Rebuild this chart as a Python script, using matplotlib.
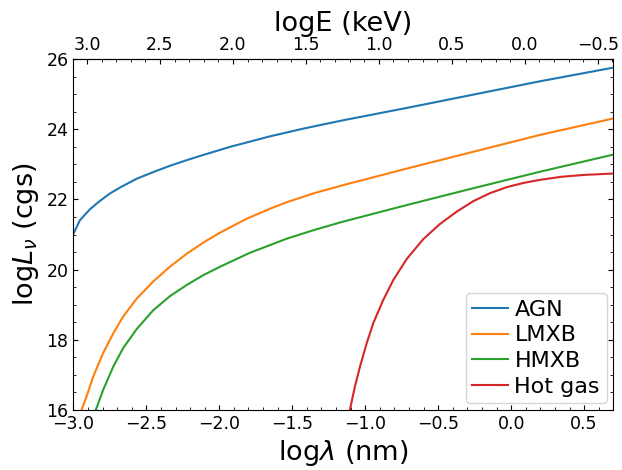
import numpy as np
import matplotlib
matplotlib.use('Agg')
import matplotlib.pyplot as plt
from matplotlib.ticker import MultipleLocator

# values
agn_x = [-3.0, -2.955, -2.887, -2.818, -2.75, -2.681, -2.567, -2.453, -2.339, -2.224, -2.11,
         -1.927, -1.653, -1.425, -1.15, -0.716, -0.26, 0.197, 0.7]
agn_y = [21.02, 21.41, 21.72, 21.96, 22.17, 22.34, 22.59, 22.78, 22.96, 23.12, 23.27,
         23.5, 23.8, 24.02, 24.26, 24.61, 24.99, 25.37, 25.76]

lmxb_x = [-2.944, -2.91, -2.864, -2.796, -2.727, -2.659, -2.567, -2.453, -2.339, -2.224, -2.11,
          -1.996, -1.813, -1.65, -1.539, -1.35, -1.15, -0.716, -0.26, 0.197, 0.7]
lmxb_y = [16.0, 16.38, 16.95, 17.62, 18.18, 18.66, 19.17, 19.66, 20.08, 20.45, 20.77,
          21.05, 21.45, 21.74, 21.92, 22.18, 22.41, 22.88, 23.36, 23.84, 24.31]

hmxb_x = [-2.846, -2.796, -2.727, -2.659, -2.567, -2.453, -2.339, -2.224, -2.11, -1.996,
          -1.79, -1.539, -1.35, -1.15, -0.716, -0.26, 0.197, 0.7]
hmxb_y = [16.0, 16.57, 17.23, 17.76, 18.3, 18.84, 19.24, 19.56, 19.84, 20.08,
          20.48, 20.88, 21.13, 21.37, 21.84, 22.32, 22.79, 23.28]

hot_x = [-1.105, -1.071, -1.036, -0.99, -0.945, -0.877, -0.808, -0.716, -0.602, -0.488,
         -0.374, -0.26, -0.145, -0.031, 0.083, 0.197, 0.35, 0.5, 0.7]
hot_y = [16.0, 16.66, 17.23, 17.9, 18.47, 19.13, 19.7, 20.3, 20.87, 21.3,
         21.65, 21.95, 22.18, 22.35, 22.47, 22.56, 22.65, 22.7, 22.74]

# logE(keV) = log(hc) - log(lambda/nm)
C = np.log10(1.23984)

fig = plt.figure(figsize=(6.22, 4.70), dpi=100)
ax = fig.add_axes([0.118, 0.128, 0.868, 0.746])

ax.plot(agn_x, agn_y, lw=1.5, label='AGN')
ax.plot(lmxb_x, lmxb_y, lw=1.5, label='LMXB')
ax.plot(hmxb_x, hmxb_y, lw=1.5, label='HMXB')
ax.plot(hot_x, hot_y, lw=1.5, label='Hot gas')

ax.set_xlim(-3.0, 0.7)
ax.set_ylim(16, 26)
ax.set_xlabel(r'log$\lambda$ (nm)', fontsize=19.5)
ax.set_ylabel(r'log$L_\nu$ (cgs)', fontsize=19.5)
ax.xaxis.set_major_locator(MultipleLocator(0.5))
ax.xaxis.set_minor_locator(MultipleLocator(0.1))
ax.yaxis.set_major_locator(MultipleLocator(2))
ax.yaxis.set_minor_locator(MultipleLocator(0.5))
ax.tick_params(which='both', direction='in', right=True, labelsize=12.5)

top = ax.secondary_xaxis('top', functions=(lambda x: C - x, lambda x: C - x))
top.set_xlabel('logE (keV)', fontsize=19.5)
top.xaxis.set_major_locator(MultipleLocator(0.5))
top.xaxis.set_minor_locator(MultipleLocator(0.1))
top.tick_params(which='both', direction='in', labelsize=12.5)

ax.legend(loc='lower right', fontsize=16, handlelength=1.6, handletextpad=0.3,
          labelspacing=0.25, borderpad=0.3, borderaxespad=0.3)

fig.savefig('out.png', dpi=100)
